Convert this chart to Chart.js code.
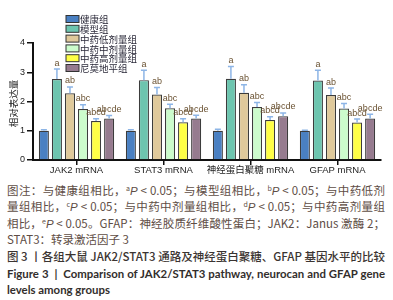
<!DOCTYPE html>
<html>
<head>
<meta charset="utf-8">
<script src="https://cdn.jsdelivr.net/npm/chart.js@4"></script>
<style>
  body { margin: 0; background: #fff; width: 393px; height: 300px; overflow: hidden; }
  #wrap { position: absolute; left: 0; top: 0; width: 393px; height: 180px; }
  #cap { position: absolute; left: 7px; top: 182px; width: 378px;
         font-family: "Noto Sans CJK SC", "Liberation Sans", sans-serif; font-size: 11.5px; }
  .ln { height: 16.4px; line-height: 16.4px; text-align: justify; text-align-last: justify; white-space: nowrap; color: #5e4d45; overflow: visible; }
  .ln.l { text-align-last: left; }
  .t1 { color: #3b3431; font-weight: 500; margin-top: 0.4px; }
  .t2 { color: #332e2c; font-weight: 700; font-family: "Lato", "Liberation Sans", sans-serif; font-size: 11.4px; }
  .t2.first { margin-top: 1.2px; }
  sup { font-size: 7px; line-height: 0; vertical-align: 4px; }
  i { font-family: "Liberation Sans", sans-serif; }
</style>
</head>
<body>
<div id="wrap"><canvas id="c" width="393" height="180"></canvas></div>
<div id="cap">
  <div class="ln">图注：与健康组相比，<sup>a</sup><i>P</i> &lt; 0.05；与模型组相比，<sup>b</sup><i>P</i> &lt; 0.05；与中药低剂</div>
  <div class="ln">量组相比，<sup>c</sup><i>P</i> &lt; 0.05；与中药中剂量组相比，<sup>d</sup><i>P</i> &lt; 0.05；与中药高剂量组</div>
  <div class="ln">相比，<sup>e</sup><i>P</i> &lt; 0.05。GFAP：神经胶质纤维酸性蛋白；JAK2：Janus 激酶 2；</div>
  <div class="ln l">STAT3：转录激活因子 3</div>
  <div class="ln t1">图 3 丨各组大鼠 JAK2/STAT3 通路及神经蛋白聚糖、GFAP 基因水平的比较</div>
  <div class="ln t2 first">Figure 3 &nbsp;| &nbsp;Comparison of JAK2/STAT3 pathway, neurocan and GFAP gene</div>
  <div class="ln l t2">levels among groups</div>
</div>
<script>
// 分類與數據
const categories = ["JAK2 mRNA", "STAT3 mRNA", "神经蛋白聚糖 mRNA", "GFAP mRNA"];
const groupNames = ["健康组", "模型组", "中药低剂量组", "中药中剂量组", "中药高剂量组", "尼莫地平组"];
const yTitle = "相对表达量";

const healthy = [1.0, 1.0, 1.0, 1.0];
const model = [2.77, 2.73, 2.78, 2.72];
const lowDose = [2.28, 2.24, 2.3, 2.22];
const midDose = [1.74, 1.77, 1.81, 1.76];
const highDose = [1.33, 1.29, 1.37, 1.28];
const nimodipine = [1.42, 1.42, 1.5, 1.42];

// 誤差 (SD)
const healthySd = [0.03, 0.03, 0.05, 0.02];
const modelSd = [0.34, 0.34, 0.42, 0.35];
const lowDoseSd = [0.22, 0.24, 0.27, 0.24];
const midDoseSd = [0.15, 0.14, 0.16, 0.17];
const highDoseSd = [0.08, 0.12, 0.11, 0.12];
const nimodipineSd = [0.1, 0.11, 0.11, 0.14];

// 顯著性標記
const sigLabels = ["", "a", "ab", "abc", "abcd", "abcde"];
const yTicks = [0, 1, 2, 3, 4];

const colors = ["#4a80c2", "#6dc5af", "#dfc99b", "#ccfccc", "#ffff47", "#967b8f"];
const values = [healthy, model, lowDose, midDose, highDose, nimodipine];
const sds = [healthySd, modelSd, lowDoseSd, midDoseSd, highDoseSd, nimodipineSd];

const numFont = "Liberation Sans, Noto Sans CJK SC, sans-serif";

// 誤差線 + 標記
const errorBars = {
  id: "errorBars",
  afterDatasetsDraw(chart) {
    const ctx = chart.ctx;
    const y = chart.scales.y;
    chart.data.datasets.forEach((ds, di) => {
      const meta = chart.getDatasetMeta(di);
      meta.data.forEach((bar, i) => {
        const top = y.getPixelForValue(ds.data[i] + sds[di][i]);
        ctx.save();
        ctx.strokeStyle = "#8db5e6";
        ctx.lineWidth = 1.5;
        ctx.beginPath();
        ctx.moveTo(bar.x, bar.y);
        ctx.lineTo(bar.x, top);
        ctx.moveTo(bar.x - 3, top);
        ctx.lineTo(bar.x + 3, top);
        ctx.stroke();
        if (sigLabels[di]) {
          ctx.fillStyle = "#6a5232";
          ctx.font = "9px " + numFont;
          ctx.textAlign = "center";
          ctx.textBaseline = "bottom";
          ctx.fillText(sigLabels[di], bar.x, top - 1.5);
        }
        ctx.restore();
      });
    });
  },
  afterDraw(chart) {
    const ctx = chart.ctx;
    ctx.save();
    // 圖例
    chart.data.datasets.forEach((ds, di) => {
      const cy = 19 + di * 9.8;
      ctx.fillStyle = ds.backgroundColor;
      ctx.strokeStyle = "#333";
      ctx.lineWidth = 1;
      ctx.fillRect(66, cy - 3.5, 13, 7);
      ctx.strokeRect(66, cy - 3.5, 13, 7);
      ctx.fillStyle = "#2b2a3a";
      ctx.font = "9.5px Noto Sans CJK SC, sans-serif";
      ctx.textBaseline = "middle";
      ctx.fillText(ds.label, 80, cy + 0.5);
    });
    // y 軸標題
    const area = chart.chartArea;
    ctx.translate(13, (area.top + area.bottom) / 2 + 2);
    ctx.rotate(-Math.PI / 2);
    ctx.fillStyle = "#222";
    ctx.font = "9.5px Noto Sans CJK SC, sans-serif";
    ctx.textAlign = "center";
    ctx.textBaseline = "middle";
    ctx.fillText(yTitle, 0, 0);
    ctx.restore();
  }
};

new Chart(document.getElementById("c"), {
  type: "bar",
  data: {
    labels: categories,
    datasets: groupNames.map((name, di) => ({
      label: name,
      data: values[di],
      backgroundColor: colors[di],
      borderColor: "#3c3c3c",
      borderWidth: 1.2,
      categoryPercentage: 0.9,
      barPercentage: 0.77,
    })),
  },
  options: {
    responsive: false,
    animation: false,
    layout: { padding: { top: 43, right: 12, left: 2, bottom: 0 } },
    plugins: { legend: { display: false }, tooltip: { enabled: false } },
    scales: {
      x: {
        grid: { display: true, drawOnChartArea: false, drawTicks: true, tickLength: 5, offset: false, color: "#111", lineWidth: 1.5 },
        border: { color: "#111", width: 2 },
        ticks: { color: "#222", font: { size: 9.5, family: numFont }, padding: 0, maxRotation: 0, minRotation: 0, autoSkip: false },
        afterFit: (s) => { s.height = 20; s.paddingLeft = 0; s.paddingRight = 0; },
      },
      y: {
        min: 0,
        max: 4,
        afterBuildTicks: (s) => { s.ticks = yTicks.map((v) => ({ value: v })); },
        grid: { display: true, drawOnChartArea: false, drawTicks: true, tickLength: 6, color: "#111", lineWidth: 1.5 },
        border: { color: "#111", width: 2 },
        ticks: { color: "#222", font: { size: 9, family: numFont }, padding: 2 },
        afterFit: (s) => { s.width = 31; },
      },
    },
  },
  plugins: [errorBars],
});
</script>
</body>
</html>
